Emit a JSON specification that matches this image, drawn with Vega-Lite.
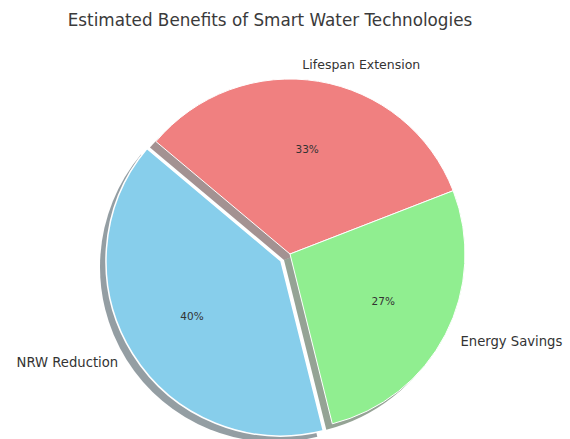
{
  "$schema": "https://vega.github.io/schema/vega-lite/v6.json",
  "autosize": "none",
  "padding": {"left": 0, "top": 40, "right": 0, "bottom": 0},
  "width": 580,
  "height": 428,
  "background": "white",
  "config": {"view": {"stroke": null}},
  "title": {
    "text": "Estimated Benefits of Smart Water Technologies",
    "font": "DejaVu Sans",
    "fontSize": 16.8,
    "fontWeight": "normal",
    "color": "#3a3a3a",
    "anchor": "middle",
    "frame": "group",
    "baseline": "alphabetic",
    "offset": 12,
    "dy": 15,
    "dx": -20
  },
  "data": {
    "values": [
      {"Category": "Lifespan Extension", "share": 0.33},
      {"Category": "Energy Savings", "share": 0.27},
      {"Category": "NRW Reduction", "share": 0.40}
    ]
  },
  "transform": [
    {"stack": "share", "groupby": [], "as": ["start", "end"]},
    {"calculate": "(datum.start + datum.end) / 2", "as": "mid"}
  ],
  "layer": [
    {
      "transform": [{"filter": "datum.Category != 'NRW Reduction'"}],
      "mark": {"type": "arc", "outerRadius": 175, "xOffset": -6, "yOffset": 6, "fillOpacity": 0.5},
      "encoding": {
        "theta": {"field": "start", "type": "quantitative", "stack": null, "scale": {"domain": [0, 1], "range": [-0.8727, 5.4105]}},
        "theta2": {"field": "end"},
        "fill": {"field": "Category", "type": "nominal", "legend": null,
          "scale": {"domain": ["Lifespan Extension", "Energy Savings", "NRW Reduction"], "range": ["#482626", "#2B472B", "#293E47"]}}
      }
    },
    {
      "transform": [{"filter": "datum.Category == 'NRW Reduction'"}],
      "mark": {"type": "arc", "outerRadius": 175, "xOffset": -15, "yOffset": 13, "fillOpacity": 0.5},
      "encoding": {
        "theta": {"field": "start", "type": "quantitative", "stack": null},
        "theta2": {"field": "end"},
        "fill": {"field": "Category", "type": "nominal", "legend": null}
      }
    },
    {
      "transform": [{"filter": "datum.Category != 'NRW Reduction'"}],
      "mark": {"type": "arc", "outerRadius": 175, "stroke": "white", "strokeWidth": 1},
      "encoding": {
        "theta": {"field": "start", "type": "quantitative", "stack": null},
        "theta2": {"field": "end"},
        "color": {"field": "Category", "type": "nominal", "legend": null,
          "scale": {"domain": ["Lifespan Extension", "Energy Savings", "NRW Reduction"], "range": ["#F08080", "#90EE90", "#87CEEB"]}}
      }
    },
    {
      "transform": [{"filter": "datum.Category == 'NRW Reduction'"}],
      "mark": {"type": "arc", "outerRadius": 175, "xOffset": -9, "yOffset": 7, "stroke": "white", "strokeWidth": 1.5},
      "encoding": {
        "theta": {"field": "start", "type": "quantitative", "stack": null},
        "theta2": {"field": "end"},
        "color": {"field": "Category", "type": "nominal", "legend": null}
      }
    },
    {
      "transform": [{"filter": "datum.Category != 'NRW Reduction'"}],
      "mark": {"type": "text", "radius": 105, "font": "DejaVu Sans", "fontSize": 10.5, "color": "#333333", "baseline": "middle", "align": "center"},
      "encoding": {
        "theta": {"field": "mid", "type": "quantitative", "stack": null},
        "text": {"field": "share", "type": "quantitative", "format": ".0%"}
      }
    },
    {
      "transform": [{"filter": "datum.Category == 'NRW Reduction'"}],
      "mark": {"type": "text", "radius": 105, "xOffset": -9, "yOffset": 7, "font": "DejaVu Sans", "fontSize": 10.5, "color": "#333333", "baseline": "middle", "align": "center"},
      "encoding": {
        "theta": {"field": "mid", "type": "quantitative", "stack": null},
        "text": {"field": "share", "type": "quantitative", "format": ".0%"}
      }
    },
    {
      "transform": [{"filter": "datum.Category == 'Lifespan Extension'"}],
      "mark": {"type": "text", "radius": 192, "dx": -19, "font": "DejaVu Sans", "fontSize": 12.5, "color": "#333333", "baseline": "middle", "align": "left"},
      "encoding": {
        "theta": {"field": "mid", "type": "quantitative", "stack": null},
        "text": {"field": "Category", "type": "nominal"}
      }
    },
    {
      "transform": [{"filter": "datum.Category == 'Energy Savings'"}],
      "mark": {"type": "text", "radius": 192, "font": "DejaVu Sans", "fontSize": 13.2, "color": "#333333", "baseline": "middle", "align": "left"},
      "encoding": {
        "theta": {"field": "mid", "type": "quantitative", "stack": null},
        "text": {"field": "Category", "type": "nominal"}
      }
    },
    {
      "transform": [{"filter": "datum.Category == 'NRW Reduction'"}],
      "mark": {"type": "text", "radius": 192, "xOffset": -9, "yOffset": 7, "font": "DejaVu Sans", "fontSize": 13.2, "color": "#333333", "baseline": "middle", "align": "right"},
      "encoding": {
        "theta": {"field": "mid", "type": "quantitative", "stack": null},
        "text": {"field": "Category", "type": "nominal"}
      }
    }
  ]
}
